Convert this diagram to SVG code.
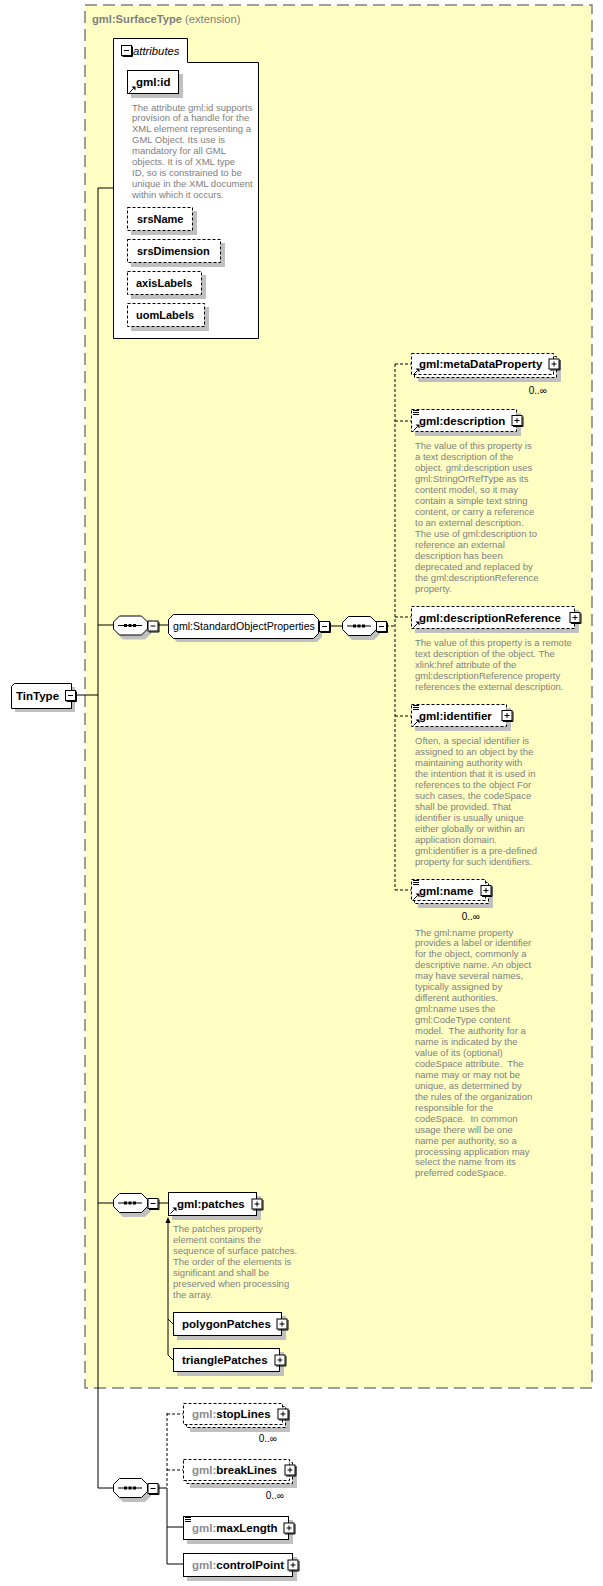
<svg xmlns="http://www.w3.org/2000/svg" width="603" height="1586" viewBox="0 0 603 1586">
<style>
.sh{fill:#c0c0c0}
.bx{fill:#fff;stroke:#000;stroke-width:1}
.dash{stroke-dasharray:3,2}
.lbl{font-family:"Liberation Sans",Arial,sans-serif;font-weight:bold;font-size:11.5px;fill:#000}
.att{font-family:"Liberation Sans",Arial,sans-serif;font-weight:bold;font-size:11px;fill:#000}
.pre{fill:#8c8c8c}
.desc{font-family:"Liberation Sans",Arial,sans-serif;font-size:9.5px;fill:#808080}
.occ{font-family:"Liberation Sans",Arial,sans-serif;font-size:10px;fill:#000}
.ln{stroke:#000;stroke-width:1;fill:none}
</style>
<defs>
<g id="plus"><rect x="0.5" y="0.5" width="10" height="10" fill="#fff" stroke="#000"/><path d="M11.5,1.5V11.5H1.5" stroke="#000" fill="none"/><path d="M3,5.5H8M5.5,3V8" stroke="#000"/></g>
<g id="minus"><rect x="0.5" y="0.5" width="10" height="10" fill="#fff" stroke="#000"/><path d="M11.5,1.5V11.5H1.5" stroke="#000" fill="none"/><path d="M3,5.5H8" stroke="#000"/></g>
<g id="seq"><path d="M10,4H32L38,10V18L32,24H10L4,18V10Z" class="sh"/><path d="M6.5,0.5H28.5L34.5,6.5V13.5L28.5,19.5H6.5L0.5,13.5V6.5Z" fill="#fff" stroke="#000"/><path d="M5,10H29" stroke="#000"/><rect x="11" y="8.5" width="3" height="3"/><rect x="15.5" y="8.5" width="3" height="3"/><rect x="20" y="8.5" width="3" height="3"/></g>
<g id="ref"><path d="M0.5,6.5L4.5,2.5" stroke="#000" fill="none"/><path d="M2.5,0.5H6.5V4.5Z" fill="#000"/></g>
<g id="simple"><path d="M0,0.5H6M0,2.5H6M0,4.5H6" stroke="#000" fill="none"/></g>
</defs>

<g id="extension">
<rect x="85" y="5" width="507" height="1383" fill="#ffffc4" stroke="#808080" stroke-width="1.5" stroke-dasharray="12,6"/>
<text x="92" y="23" font-family="Liberation Sans,Arial,sans-serif" font-size="11.2px" fill="#808080"><tspan font-weight="bold">gml:SurfaceType</tspan> (extension)</text>
</g>

<g id="connectors">
<path class="ln" d="M98,188H113M98,188V1488M76,695H98M98,625H113M158,625H168M330,626H342"/>
<path class="ln dash" d="M386,626H395M395,364V890M395,364H411M395,421H411M395,617H411M395,716H411M395,890H411"/>
<path class="ln" d="M98,1203H113M158,1203H168M168,1222V1355M168,1319L173,1324M168,1355L173,1360"/>
<path d="M168,1217L165.5,1223H170.5Z" fill="#000"/>
<path class="ln" d="M98,1488H113M158,1488H167M167,1488V1564M167,1527H183M167,1564H183"/>
<path class="ln dash" d="M167,1413V1488M167,1414H183M167,1470H183"/>
</g>

<g id="TinType">
<path d="M18,687H75V712H15V690Z" class="sh"/>
<path d="M14.5,683.5H71.5V708.5H11.5V686.5Z" class="bx"/>
<text x="16" y="699.5" class="lbl">TinType</text>
<use href="#minus" x="65" y="690"/>
</g>

<g id="attributes">
<path d="M113.5,62.5V38.5H187.5V62.5H258.5V338.5H113.5Z" class="bx"/>
<use href="#minus" x="121" y="45"/>
<text x="133" y="55" font-family="Liberation Sans,Arial,sans-serif" font-style="italic" font-size="11.3px" fill="#000">attributes</text>
</g>

<g id="gml-id">
<rect x="131" y="74" width="52" height="24" class="sh"/>
<rect x="127.5" y="70.5" width="51" height="23" class="bx"/>
<text x="136" y="86" class="lbl">gml:id</text>
<use href="#ref" x="129" y="86"/>
<text class="desc" y="110.5"><tspan x="132">The attribute gml:id supports</tspan><tspan x="132" dy="10.9">provision of a handle for the</tspan><tspan x="132" dy="10.9">XML element representing a</tspan><tspan x="132" dy="10.9">GML Object. Its use is</tspan><tspan x="132" dy="10.9">mandatory for all GML</tspan><tspan x="132" dy="10.9">objects. It is of XML type</tspan><tspan x="132" dy="10.9">ID, so is constrained to be</tspan><tspan x="132" dy="10.9">unique in the XML document</tspan><tspan x="132" dy="10.9">within which it occurs.</tspan></text>
</g>

<g id="srsName">
<rect x="131" y="211" width="66" height="24" class="sh"/>
<rect x="127.5" y="207.5" width="65" height="23" class="bx dash"/>
<text x="137" y="223" class="att">srsName</text>
</g>
<g id="srsDimension">
<rect x="131" y="243" width="94" height="24" class="sh"/>
<rect x="127.5" y="239.5" width="93" height="23" class="bx dash"/>
<text x="137" y="255" class="att">srsDimension</text>
</g>
<g id="axisLabels">
<rect x="131" y="275" width="75" height="24" class="sh"/>
<rect x="127.5" y="271.5" width="74" height="23" class="bx dash"/>
<text x="136" y="287" class="att">axisLabels</text>
</g>
<g id="uomLabels">
<rect x="131" y="307" width="78" height="24" class="sh"/>
<rect x="127.5" y="303.5" width="77" height="23" class="bx dash"/>
<text x="136" y="319" class="att">uomLabels</text>
</g>

<g id="seq0"><use href="#seq" x="113" y="615.5"/><use href="#minus" x="147.5" y="620.5"/></g>

<g id="StandardObjectProperties">
<path d="M177,618H317L322,623V637L317,642H177L172,637V623Z" class="sh"/>
<path d="M173.5,614.5H313.5L318.5,619.5V633.5L313.5,638.5H173.5L168.5,633.5V619.5Z" class="bx"/>
<text x="173" y="629.5" font-family="Liberation Sans,Arial,sans-serif" font-size="10.6px" fill="#000">gml:StandardObjectProperties</text>
<use href="#minus" x="319" y="621"/>
</g>

<g id="seq1"><use href="#seq" x="342" y="616"/><use href="#minus" x="376" y="621"/></g>

<g id="metaDataProperty">
<rect x="418" y="360" width="143" height="22" class="sh"/>
<rect x="414.5" y="356.5" width="142" height="21" class="bx dash"/>
<rect x="411.5" y="353.5" width="142" height="21" class="bx dash"/>
<text x="419" y="368" class="lbl">gml:metaDataProperty</text>
<use href="#ref" x="413" y="368"/>
<use href="#plus" x="548.5" y="358.5"/>
<text x="547" y="394" class="occ" text-anchor="end">0..∞</text>
</g>

<g id="description">
<rect x="415" y="413" width="106" height="23" class="sh"/>
<rect x="411.5" y="409.5" width="105" height="22" class="bx dash"/>
<use href="#simple" x="413" y="410"/>
<use href="#ref" x="413" y="424"/>
<text x="419" y="424.5" class="lbl">gml:description</text>
<use href="#plus" x="511.5" y="415"/>
<text class="desc" y="448.5"><tspan x="415">The value of this property is</tspan><tspan x="415" dy="11">a text description of the</tspan><tspan x="415" dy="11">object. gml:description uses</tspan><tspan x="415" dy="11">gml:StringOrRefType as its</tspan><tspan x="415" dy="11">content model, so it may</tspan><tspan x="415" dy="11">contain a simple text string</tspan><tspan x="415" dy="11">content, or carry a reference</tspan><tspan x="415" dy="11">to an external description.</tspan><tspan x="415" dy="11">The use of gml:description to</tspan><tspan x="415" dy="11">reference an external</tspan><tspan x="415" dy="11">description has been</tspan><tspan x="415" dy="11">deprecated and replaced by</tspan><tspan x="415" dy="11">the gml:descriptionReference</tspan><tspan x="415" dy="11">property.</tspan></text>
</g>

<g id="descriptionReference">
<rect x="415" y="610" width="164" height="23" class="sh"/>
<rect x="411.5" y="606.5" width="163" height="22" class="bx dash"/>
<use href="#ref" x="413" y="621"/>
<text x="419" y="621.5" class="lbl">gml:descriptionReference</text>
<use href="#plus" x="569.5" y="612"/>
<text class="desc" y="645.5"><tspan x="415">The value of this property is a remote</tspan><tspan x="415" dy="11">text description of the object. The</tspan><tspan x="415" dy="11">xlink:href attribute of the</tspan><tspan x="415" dy="11">gml:descriptionReference property</tspan><tspan x="415" dy="11">references the external description.</tspan></text>
</g>

<g id="identifier">
<rect x="415" y="708" width="96" height="23" class="sh"/>
<rect x="411.5" y="704.5" width="95" height="22" class="bx dash"/>
<use href="#simple" x="413" y="705"/>
<use href="#ref" x="413" y="719"/>
<text x="419" y="719.5" class="lbl">gml:identifier</text>
<use href="#plus" x="501.5" y="710"/>
<text class="desc" y="743.5"><tspan x="415">Often, a special identifier is</tspan><tspan x="415" dy="11">assigned to an object by the</tspan><tspan x="415" dy="11">maintaining authority with</tspan><tspan x="415" dy="11">the intention that it is used in</tspan><tspan x="415" dy="11">references to the object For</tspan><tspan x="415" dy="11">such cases, the codeSpace</tspan><tspan x="415" dy="11">shall be provided. That</tspan><tspan x="415" dy="11">identifier is usually unique</tspan><tspan x="415" dy="11">either globally or within an</tspan><tspan x="415" dy="11">application domain.</tspan><tspan x="415" dy="11">gml:identifier is a pre-defined</tspan><tspan x="415" dy="11">property for such identifiers.</tspan></text>
</g>

<g id="name">
<rect x="418" y="886" width="75" height="22" class="sh"/>
<rect x="414.5" y="882.5" width="74" height="21" class="bx dash"/>
<rect x="411.5" y="879.5" width="74" height="21" class="bx dash"/>
<use href="#simple" x="413" y="880"/>
<use href="#ref" x="413" y="893"/>
<text x="419" y="894.5" class="lbl">gml:name</text>
<use href="#plus" x="480.5" y="885"/>
<text x="480" y="920" class="occ" text-anchor="end">0..∞</text>
<text class="desc" y="935.5"><tspan x="415">The gml:name property</tspan><tspan x="415" dy="10.95">provides a label or identifier</tspan><tspan x="415" dy="10.95">for the object, commonly a</tspan><tspan x="415" dy="10.95">descriptive name. An object</tspan><tspan x="415" dy="10.95">may have several names,</tspan><tspan x="415" dy="10.95">typically assigned by</tspan><tspan x="415" dy="10.95">different authorities.</tspan><tspan x="415" dy="10.95">gml:name uses the</tspan><tspan x="415" dy="10.95">gml:CodeType content</tspan><tspan x="415" dy="10.95" xml:space="preserve">model.  The authority for a</tspan><tspan x="415" dy="10.95">name is indicated by the</tspan><tspan x="415" dy="10.95">value of its (optional)</tspan><tspan x="415" dy="10.95" xml:space="preserve">codeSpace attribute.  The</tspan><tspan x="415" dy="10.95">name may or may not be</tspan><tspan x="415" dy="10.95">unique, as determined by</tspan><tspan x="415" dy="10.95">the rules of the organization</tspan><tspan x="415" dy="10.95">responsible for the</tspan><tspan x="415" dy="10.95" xml:space="preserve">codeSpace.  In common</tspan><tspan x="415" dy="10.95">usage there will be one</tspan><tspan x="415" dy="10.95">name per authority, so a</tspan><tspan x="415" dy="10.95">processing application may</tspan><tspan x="415" dy="10.95">select the name from its</tspan><tspan x="415" dy="10.95">preferred codeSpace.</tspan></text>
</g>

<g id="seq2"><use href="#seq" x="113" y="1193"/><use href="#minus" x="147.5" y="1198"/></g>

<g id="patches">
<rect x="172" y="1196" width="89" height="24" class="sh"/>
<rect x="168.5" y="1192.5" width="88" height="23" class="bx"/>
<use href="#ref" x="170" y="1207"/>
<text x="177" y="1207.5" class="lbl">gml:patches</text>
<use href="#plus" x="251.5" y="1198.5"/>
<text class="desc" y="1231.5"><tspan x="173">The patches property</tspan><tspan x="173" dy="11">element contains the</tspan><tspan x="173" dy="11">sequence of surface patches.</tspan><tspan x="173" dy="11">The order of the elements is</tspan><tspan x="173" dy="11">significant and shall be</tspan><tspan x="173" dy="11">preserved when processing</tspan><tspan x="173" dy="11">the array.</tspan></text>
</g>

<g id="polygonPatches">
<rect x="177" y="1316" width="109" height="24" class="sh"/>
<rect x="173.5" y="1312.5" width="108" height="23" class="bx"/>
<text x="182" y="1327.5" class="lbl">polygonPatches</text>
<use href="#plus" x="276.5" y="1318.5"/>
</g>

<g id="trianglePatches">
<rect x="177" y="1352" width="107" height="24" class="sh"/>
<rect x="173.5" y="1348.5" width="106" height="23" class="bx"/>
<text x="182" y="1363.5" class="lbl">trianglePatches</text>
<use href="#plus" x="274.5" y="1354.5"/>
</g>

<g id="seq3"><use href="#seq" x="113" y="1478"/><use href="#minus" x="147.5" y="1483"/></g>

<g id="stopLines">
<rect x="190" y="1410" width="100" height="22" class="sh"/>
<rect x="186.5" y="1406.5" width="99" height="21" class="bx dash"/>
<rect x="183.5" y="1403.5" width="99" height="21" class="bx dash"/>
<text x="192" y="1418" class="lbl"><tspan class="pre">gml:</tspan>stopLines</text>
<use href="#plus" x="277.5" y="1408.5"/>
<text x="277" y="1442" class="occ" text-anchor="end">0..∞</text>
</g>

<g id="breakLines">
<rect x="190" y="1466" width="107" height="22" class="sh"/>
<rect x="186.5" y="1462.5" width="106" height="21" class="bx dash"/>
<rect x="183.5" y="1459.5" width="106" height="21" class="bx dash"/>
<text x="192" y="1474" class="lbl"><tspan class="pre">gml:</tspan>breakLines</text>
<use href="#plus" x="284.5" y="1464.5"/>
<text x="284" y="1499" class="occ" text-anchor="end">0..∞</text>
</g>

<g id="maxLength">
<rect x="187" y="1520" width="106" height="24" class="sh"/>
<rect x="183.5" y="1516.5" width="105" height="23" class="bx"/>
<use href="#simple" x="185" y="1517"/>
<text x="192" y="1531.5" class="lbl"><tspan class="pre">gml:</tspan>maxLength</text>
<use href="#plus" x="283.5" y="1522.5"/>
</g>

<g id="controlPoint">
<rect x="187" y="1557" width="110" height="24" class="sh"/>
<rect x="183.5" y="1553.5" width="109" height="23" class="bx"/>
<text x="192" y="1568.5" class="lbl"><tspan class="pre">gml:</tspan>controlPoint</text>
<use href="#plus" x="287.5" y="1559.5"/>
</g>
</svg>
